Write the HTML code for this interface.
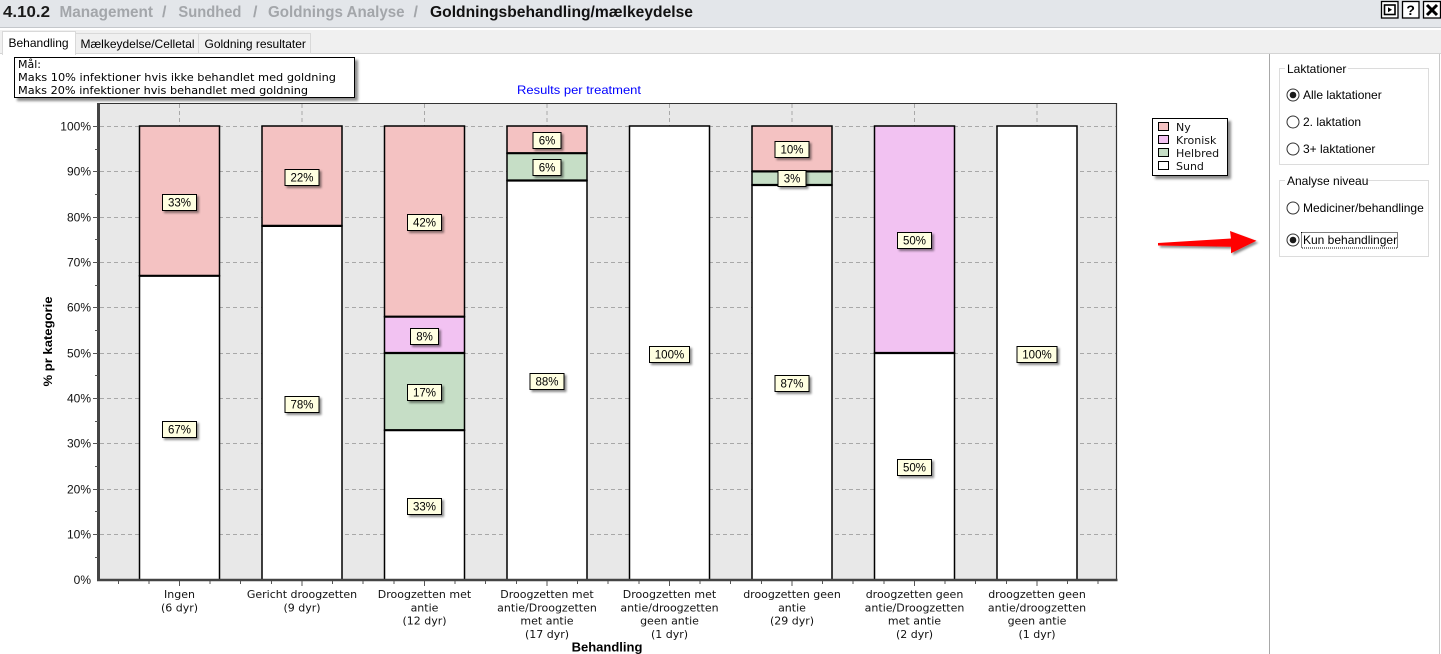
<!DOCTYPE html>
<html><head><meta charset="utf-8"><style>
html,body{margin:0;padding:0;background:#fff;width:1441px;height:654px;overflow:hidden}
svg{display:block}
</style></head><body>
<svg width="1441" height="654" viewBox="0 0 1441 654" xmlns="http://www.w3.org/2000/svg">
<defs>
<filter id="sh" x="-20%" y="-20%" width="150%" height="160%"><feDropShadow dx="2" dy="2" stdDeviation="1" flood-color="#000" flood-opacity="0.45"/></filter>
<filter id="sh2" x="-20%" y="-20%" width="150%" height="160%"><feDropShadow dx="3" dy="3" stdDeviation="1.2" flood-color="#000" flood-opacity="0.45"/></filter>
</defs>
<!-- header -->
<rect x="0" y="0" width="1441" height="27" fill="#e3e6ea"/>
<line x1="0" y1="27.5" x2="1441" y2="27.5" stroke="#c4c7cb"/>
<g font-family="'Liberation Sans', sans-serif" font-weight="bold" font-size="16">
<text x="3" y="17" fill="#1a1a1a" textLength="47" lengthAdjust="spacingAndGlyphs">4.10.2</text>
<text x="59.5" y="17" fill="#a3a6aa" textLength="93.5" lengthAdjust="spacingAndGlyphs">Management</text>
<text x="162" y="17" fill="#a3a6aa">/</text>
<text x="178.4" y="17" fill="#a3a6aa" textLength="63" lengthAdjust="spacingAndGlyphs">Sundhed</text>
<text x="253" y="17" fill="#a3a6aa">/</text>
<text x="268" y="17" fill="#a3a6aa" textLength="136.6" lengthAdjust="spacingAndGlyphs">Goldnings Analyse</text>
<text x="413.5" y="17" fill="#a3a6aa">/</text>
<text x="430" y="17" fill="#111" textLength="263" lengthAdjust="spacingAndGlyphs">Goldningsbehandling/mælkeydelse</text>
</g>
<!-- header icons -->
<rect x="1381.5" y="1.5" width="16.5" height="16.5" fill="#fff" stroke="#000" stroke-width="1.3"/>
<rect x="1384.5" y="5" width="10.5" height="9.5" fill="none" stroke="#000" stroke-width="1.6"/>
<polygon points="1388,7.3 1388,12.3 1392,9.8" fill="#000"/>
<rect x="1402.5" y="1.5" width="16.5" height="16.5" fill="#fff" stroke="#000" stroke-width="1.3"/>
<text x="1410.7" y="15" font-family="'Liberation Sans', sans-serif" font-weight="bold" font-size="14" text-anchor="middle" fill="#000">?</text>
<rect x="1423.5" y="1.5" width="17" height="16.5" fill="#fff" stroke="#000" stroke-width="1.3"/>
<path d="M1427,5 L1437,15 M1437,5 L1427,15" stroke="#000" stroke-width="3"/>
<!-- tab strip -->
<rect x="0" y="30" width="1441" height="24" fill="#f0f0f0"/>
<line x1="0" y1="53.5" x2="1441" y2="53.5" stroke="#d4d4d4"/>
<rect x="75.5" y="33.5" width="123" height="20" fill="#f0f0f0" stroke="#d9d9d9"/>
<rect x="198.5" y="33.5" width="112" height="20" fill="#f0f0f0" stroke="#d9d9d9"/>
<rect x="2.5" y="31.5" width="73" height="23" fill="#fff" stroke="#d9d9d9"/>
<rect x="3" y="53" width="72" height="2" fill="#fff"/>
<g font-family="'Liberation Sans', sans-serif" font-size="12" fill="#000">
<text x="8.5" y="47">Behandling</text>
<text x="80.5" y="48">Mælkeydelse/Celletal</text>
<text x="204.5" y="48">Goldning resultater</text>
</g>
<!-- content borders -->
<line x1="1269.5" y1="54" x2="1269.5" y2="654" stroke="#a8a8a8"/>
<line x1="1439.5" y1="54" x2="1439.5" y2="654" stroke="#c8c8c8"/>

<!-- Mål box -->
<rect x="14.5" y="57.5" width="340" height="40" fill="#fff" stroke="#000" filter="url(#sh2)"/>
<g font-family="'DejaVu Sans', sans-serif" font-size="11" fill="#000">
<text x="18" y="68">Mål:</text>
<text x="18" y="81" textLength="318" lengthAdjust="spacingAndGlyphs">Maks 10% infektioner hvis ikke behandlet med goldning</text>
<text x="18" y="94" textLength="290" lengthAdjust="spacingAndGlyphs">Maks 20% infektioner hvis behandlet med goldning</text>
</g>
<text x="579" y="94" font-family="'Liberation Sans', sans-serif" font-size="12" fill="#0000ff" text-anchor="middle" textLength="124" lengthAdjust="spacingAndGlyphs">Results per treatment</text>

<!-- plot area -->
<rect x="99" y="103" width="1017.5" height="477" fill="#e8e8e8"/>
<g stroke="#a8a8a8" stroke-width="1" stroke-dasharray="4,3" fill="none">
<line x1="100" y1="126.5" x2="1116" y2="126.5"/>
<line x1="100" y1="171.5" x2="1116" y2="171.5"/>
<line x1="100" y1="217.5" x2="1116" y2="217.5"/>
<line x1="100" y1="262.5" x2="1116" y2="262.5"/>
<line x1="100" y1="307.5" x2="1116" y2="307.5"/>
<line x1="100" y1="353.5" x2="1116" y2="353.5"/>
<line x1="100" y1="398.5" x2="1116" y2="398.5"/>
<line x1="100" y1="443.5" x2="1116" y2="443.5"/>
<line x1="100" y1="489.5" x2="1116" y2="489.5"/>
<line x1="100" y1="534.5" x2="1116" y2="534.5"/>
<line x1="179.5" y1="104" x2="179.5" y2="579"/>
<line x1="302" y1="104" x2="302" y2="579"/>
<line x1="424.5" y1="104" x2="424.5" y2="579"/>
<line x1="547" y1="104" x2="547" y2="579"/>
<line x1="669.5" y1="104" x2="669.5" y2="579"/>
<line x1="792" y1="104" x2="792" y2="579"/>
<line x1="914.5" y1="104" x2="914.5" y2="579"/>
<line x1="1037" y1="104" x2="1037" y2="579"/>
</g>

<!-- bars -->
<g stroke="#000" stroke-width="1.5">
<!-- bar 0 -->
<rect x="139.5" y="126" width="80" height="149.8" fill="#f4c2c2"/>
<rect x="139.5" y="275.8" width="80" height="304.2" fill="#fff"/>
<!-- bar 1 -->
<rect x="262" y="126" width="80" height="99.9" fill="#f4c2c2"/>
<rect x="262" y="225.9" width="80" height="354.1" fill="#fff"/>
<!-- bar 2 -->
<rect x="384.5" y="126" width="80" height="190.7" fill="#f4c2c2"/>
<rect x="384.5" y="316.7" width="80" height="36.3" fill="#f2c2f2"/>
<rect x="384.5" y="353" width="80" height="77.2" fill="#c6dec6"/>
<rect x="384.5" y="430.2" width="80" height="149.8" fill="#fff"/>
<!-- bar 3 -->
<rect x="507" y="126" width="80" height="27.2" fill="#f4c2c2"/>
<rect x="507" y="153.2" width="80" height="27.3" fill="#c6dec6"/>
<rect x="507" y="180.5" width="80" height="399.5" fill="#fff"/>
<!-- bar 4 -->
<rect x="629.5" y="126" width="80" height="454" fill="#fff"/>
<!-- bar 5 -->
<rect x="752" y="126" width="80" height="45.4" fill="#f4c2c2"/>
<rect x="752" y="171.4" width="80" height="13.6" fill="#c6dec6"/>
<rect x="752" y="185" width="80" height="395" fill="#fff"/>
<!-- bar 6 -->
<rect x="874.5" y="126" width="80" height="227" fill="#f2c2f2"/>
<rect x="874.5" y="353" width="80" height="227" fill="#fff"/>
<!-- bar 7 -->
<rect x="997" y="126" width="80" height="454" fill="#fff"/>
</g>
<g stroke="#000" stroke-width="2.2">
<line x1="139.5" y1="275.8" x2="219.5" y2="275.8"/>
<line x1="262" y1="225.9" x2="342" y2="225.9"/>
<line x1="384.5" y1="316.7" x2="464.5" y2="316.7"/>
<line x1="384.5" y1="353" x2="464.5" y2="353"/>
<line x1="384.5" y1="430.2" x2="464.5" y2="430.2"/>
<line x1="507" y1="153.2" x2="587" y2="153.2"/>
<line x1="507" y1="180.5" x2="587" y2="180.5"/>
<line x1="752" y1="171.4" x2="832" y2="171.4"/>
<line x1="752" y1="185" x2="832" y2="185"/>
<line x1="874.5" y1="353" x2="954.5" y2="353"/>
</g>

<!-- value labels -->
<g font-family="'Liberation Sans', sans-serif" font-size="11.5" text-anchor="middle" fill="#000">
<g filter="url(#sh)" fill="#ffffe1" stroke="#000" stroke-width="1">
<rect x="162.5" y="194.5" width="34" height="16"/>
<rect x="162.5" y="421.5" width="34" height="16"/>
<rect x="285" y="169.5" width="34" height="16"/>
<rect x="285" y="396.5" width="34" height="16"/>
<rect x="407.5" y="214.5" width="34" height="16"/>
<rect x="410.5" y="328.5" width="28" height="16"/>
<rect x="407.5" y="384.5" width="34" height="16"/>
<rect x="407.5" y="498.5" width="34" height="16"/>
<rect x="533" y="132.5" width="28" height="16"/>
<rect x="533" y="159.5" width="28" height="16"/>
<rect x="530" y="373.5" width="34" height="16"/>
<rect x="649.5" y="346.5" width="40" height="16"/>
<rect x="775" y="141.5" width="34" height="16"/>
<rect x="778" y="170.5" width="28" height="16"/>
<rect x="775" y="375.5" width="34" height="16"/>
<rect x="897.5" y="232.5" width="34" height="16"/>
<rect x="897.5" y="459.5" width="34" height="16"/>
<rect x="1017" y="346.5" width="40" height="16"/>
</g>
<text x="179.5" y="206.5">33%</text>
<text x="179.5" y="433.5">67%</text>
<text x="302" y="181.5">22%</text>
<text x="302" y="408.5">78%</text>
<text x="424.5" y="226.5">42%</text>
<text x="424.5" y="340.5">8%</text>
<text x="424.5" y="396.5">17%</text>
<text x="424.5" y="510.5">33%</text>
<text x="547" y="144.5">6%</text>
<text x="547" y="171.5">6%</text>
<text x="547" y="385.5">88%</text>
<text x="669.5" y="358.5">100%</text>
<text x="792" y="153.5">10%</text>
<text x="792" y="182.5">3%</text>
<text x="792" y="387.5">87%</text>
<text x="914.5" y="244.5">50%</text>
<text x="914.5" y="471.5">50%</text>
<text x="1037" y="358.5">100%</text>
</g>

<!-- frame & axes -->
<line x1="98" y1="103.5" x2="1117" y2="103.5" stroke="#333" stroke-width="1"/>
<line x1="1116.5" y1="103" x2="1116.5" y2="580" stroke="#333" stroke-width="1.2"/>
<line x1="98.5" y1="103" x2="98.5" y2="581" stroke="#444" stroke-width="3"/>
<line x1="97" y1="580" x2="1117.5" y2="580" stroke="#444" stroke-width="2.5"/>
<!-- y ticks -->
<g stroke="#555" stroke-width="1">
<line x1="93" y1="126.5" x2="98" y2="126.5"/><line x1="95" y1="149.5" x2="98" y2="149.5"/>
<line x1="93" y1="171.5" x2="98" y2="171.5"/><line x1="95" y1="194.5" x2="98" y2="194.5"/>
<line x1="93" y1="217.5" x2="98" y2="217.5"/><line x1="95" y1="239.5" x2="98" y2="239.5"/>
<line x1="93" y1="262.5" x2="98" y2="262.5"/><line x1="95" y1="285.5" x2="98" y2="285.5"/>
<line x1="93" y1="307.5" x2="98" y2="307.5"/><line x1="95" y1="330.5" x2="98" y2="330.5"/>
<line x1="93" y1="353.5" x2="98" y2="353.5"/><line x1="95" y1="375.5" x2="98" y2="375.5"/>
<line x1="93" y1="398.5" x2="98" y2="398.5"/><line x1="95" y1="421.5" x2="98" y2="421.5"/>
<line x1="93" y1="443.5" x2="98" y2="443.5"/><line x1="95" y1="466.5" x2="98" y2="466.5"/>
<line x1="93" y1="489.5" x2="98" y2="489.5"/><line x1="95" y1="511.5" x2="98" y2="511.5"/>
<line x1="93" y1="534.5" x2="98" y2="534.5"/><line x1="95" y1="557.5" x2="98" y2="557.5"/>
</g>
<!-- x ticks -->
<g stroke="#555" stroke-width="1">
<line x1="118.5" y1="581" x2="118.5" y2="584"/><line x1="149" y1="581" x2="149" y2="584"/><line x1="179.5" y1="581" x2="179.5" y2="586"/><line x1="210" y1="581" x2="210" y2="584"/>
<line x1="240.5" y1="581" x2="240.5" y2="584"/><line x1="271.5" y1="581" x2="271.5" y2="584"/><line x1="302" y1="581" x2="302" y2="586"/><line x1="332.5" y1="581" x2="332.5" y2="584"/>
<line x1="363" y1="581" x2="363" y2="584"/><line x1="394" y1="581" x2="394" y2="584"/><line x1="424.5" y1="581" x2="424.5" y2="586"/><line x1="455" y1="581" x2="455" y2="584"/>
<line x1="485.5" y1="581" x2="485.5" y2="584"/><line x1="516.5" y1="581" x2="516.5" y2="584"/><line x1="547" y1="581" x2="547" y2="586"/><line x1="577.5" y1="581" x2="577.5" y2="584"/>
<line x1="608" y1="581" x2="608" y2="584"/><line x1="639" y1="581" x2="639" y2="584"/><line x1="669.5" y1="581" x2="669.5" y2="586"/><line x1="700" y1="581" x2="700" y2="584"/>
<line x1="730.5" y1="581" x2="730.5" y2="584"/><line x1="761.5" y1="581" x2="761.5" y2="584"/><line x1="792" y1="581" x2="792" y2="586"/><line x1="822.5" y1="581" x2="822.5" y2="584"/>
<line x1="853" y1="581" x2="853" y2="584"/><line x1="884" y1="581" x2="884" y2="584"/><line x1="914.5" y1="581" x2="914.5" y2="586"/><line x1="945" y1="581" x2="945" y2="584"/>
<line x1="975.5" y1="581" x2="975.5" y2="584"/><line x1="1006.5" y1="581" x2="1006.5" y2="584"/><line x1="1037" y1="581" x2="1037" y2="586"/><line x1="1067.5" y1="581" x2="1067.5" y2="584"/>
<line x1="1098" y1="581" x2="1098" y2="584"/>
</g>
<!-- y labels -->
<g font-family="'Liberation Sans', sans-serif" font-size="12" text-anchor="end" fill="#111">
<text x="91" y="130.5">100%</text>
<text x="91" y="175.5">90%</text>
<text x="91" y="221.5">80%</text>
<text x="91" y="266.5">70%</text>
<text x="91" y="311.5">60%</text>
<text x="91" y="357.5">50%</text>
<text x="91" y="402.5">40%</text>
<text x="91" y="447.5">30%</text>
<text x="91" y="493.5">20%</text>
<text x="91" y="538.5">10%</text>
<text x="91" y="584">0%</text>
</g>
<text transform="translate(52,341.5) rotate(-90)" font-family="'Liberation Sans', sans-serif" font-weight="bold" font-size="12" text-anchor="middle" fill="#000" textLength="90" lengthAdjust="spacingAndGlyphs">% pr kategorie</text>

<!-- x labels -->
<g font-family="'DejaVu Sans', sans-serif" font-size="11" text-anchor="middle" fill="#111">
<text x="179.5" y="598">Ingen</text><text x="179.5" y="611.3">(6 dyr)</text>
<text x="302" y="598">Gericht droogzetten</text><text x="302" y="611.3">(9 dyr)</text>
<text x="424.5" y="598">Droogzetten met</text><text x="424.5" y="611.3">antie</text><text x="424.5" y="624.6">(12 dyr)</text>
<text x="547" y="598">Droogzetten met</text><text x="547" y="611.3">antie/Droogzetten</text><text x="547" y="624.6">met antie</text><text x="547" y="638">(17 dyr)</text>
<text x="669.5" y="598">Droogzetten met</text><text x="669.5" y="611.3">antie/droogzetten</text><text x="669.5" y="624.6">geen antie</text><text x="669.5" y="638">(1 dyr)</text>
<text x="792" y="598">droogzetten geen</text><text x="792" y="611.3">antie</text><text x="792" y="624.6">(29 dyr)</text>
<text x="914.5" y="598">droogzetten geen</text><text x="914.5" y="611.3">antie/Droogzetten</text><text x="914.5" y="624.6">met antie</text><text x="914.5" y="638">(2 dyr)</text>
<text x="1037" y="598">droogzetten geen</text><text x="1037" y="611.3">antie/droogzetten</text><text x="1037" y="624.6">geen antie</text><text x="1037" y="638">(1 dyr)</text>
</g>
<text x="607" y="651.5" font-family="'Liberation Sans', sans-serif" font-weight="bold" font-size="13" text-anchor="middle" fill="#000">Behandling</text>

<!-- legend -->
<rect x="1152.5" y="118.5" width="75" height="57" fill="#fff" stroke="#000" filter="url(#sh2)"/>
<g stroke="#000" stroke-width="1">
<rect x="1158.5" y="122.5" width="10" height="8" fill="#f4c2c2"/>
<rect x="1158.5" y="135.5" width="10" height="8" fill="#f2c2f2"/>
<rect x="1158.5" y="148.5" width="10" height="8" fill="#c6dec6"/>
<rect x="1158.5" y="161.5" width="10" height="8" fill="#fff"/>
</g>
<g font-family="'DejaVu Sans', sans-serif" font-size="11" fill="#111">
<text x="1176" y="131">Ny</text>
<text x="1176" y="144">Kronisk</text>
<text x="1176" y="157">Helbred</text>
<text x="1176" y="170">Sund</text>
</g>

<!-- red arrow -->
<polygon points="1158,243 1231,238.5 1230,231 1256.5,240.7 1231,253.3 1231,246.8 1158,245.5" fill="#ff0000" filter="url(#sh)"/>

<!-- right panel group boxes -->
<rect x="1279.5" y="68.5" width="149" height="96" fill="none" stroke="#dcdcdc"/>
<rect x="1285" y="62" width="63" height="12" fill="#fff"/>
<rect x="1279.5" y="180.5" width="149" height="76" fill="none" stroke="#dcdcdc"/>
<rect x="1285" y="174" width="82" height="12" fill="#fff"/>
<g font-family="'Liberation Sans', sans-serif" font-size="12" fill="#000">
<text x="1287" y="73">Laktationer</text>
<text x="1287" y="185">Analyse niveau</text>
<text x="1303" y="99">Alle laktationer</text>
<text x="1303" y="126">2. laktation</text>
<text x="1303" y="153">3+ laktationer</text>
<text x="1303" y="212">Mediciner/behandlinge</text>
<text x="1303" y="244">Kun behandlinger</text>
</g>
<g fill="#fff" stroke="#333" stroke-width="1">
<circle cx="1293" cy="95" r="6"/>
<circle cx="1293" cy="122" r="6"/>
<circle cx="1293" cy="149" r="6"/>
<circle cx="1293" cy="208" r="6"/>
<circle cx="1293" cy="240" r="6"/>
</g>
<circle cx="1293" cy="95" r="3.3" fill="#1a1a1a"/>
<circle cx="1293" cy="240" r="3.3" fill="#1a1a1a"/>
<rect x="1301.5" y="232.5" width="96" height="15.5" fill="none" stroke="#000" stroke-width="1" stroke-dasharray="1,1"/>
</svg>
</body></html>
